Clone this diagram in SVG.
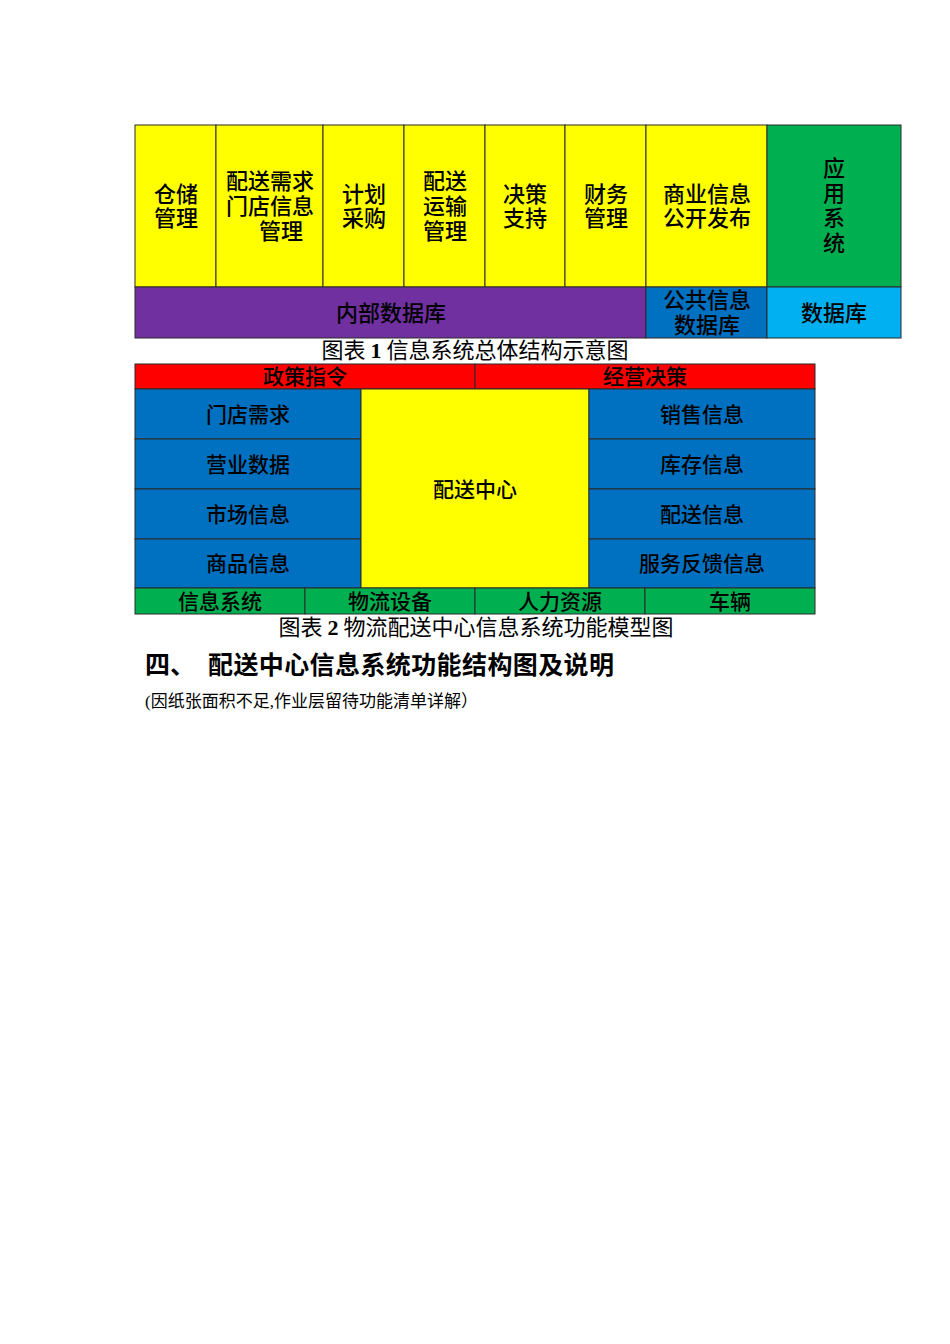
<svg xmlns="http://www.w3.org/2000/svg" width="950" height="1344" viewBox="0 0 950 1344">
<style>
.c{stroke:#2b2b2b;stroke-width:1}
.y{fill:#FFFF00}.g{fill:#00B050}.p{fill:#7030A0}.b{fill:#0070C0}.lb{fill:#00B0F0}.r{fill:#FF0000}
.t{font-family:"Noto Sans CJK SC","Noto Sans",sans-serif;font-size:22px;font-weight:500;fill:#000;text-anchor:middle}
.t2{font-family:"Noto Sans CJK SC","Noto Sans",sans-serif;font-size:21px;font-weight:500;fill:#000;text-anchor:middle}
.cap{font-family:"Noto Sans CJK SC",sans-serif;font-size:22px;fill:#000;text-anchor:middle}
.num{font-family:"Liberation Serif",serif;font-weight:bold}
.h{font-family:"Noto Sans CJK SC",sans-serif;font-size:25px;font-weight:bold;fill:#000}
.s{font-family:"Liberation Serif","Noto Sans CJK SC",serif;font-size:17px;fill:#000}
</style>
<rect width="950" height="1344" fill="#fff"/>

<g id="fig1">
  <g id="n-cangchu"><rect class="c y" x="135" y="125" width="81" height="162"/><text class="t" x="176" y="202">仓储</text><text class="t" x="176" y="226">管理</text></g>
  <g id="n-peisongxuqiu"><rect class="c y" x="216" y="125" width="107" height="162"/><text class="t" x="270" y="189">配送需求</text><text class="t" x="270" y="214">门店信息</text><text class="t" x="281" y="239">管理</text></g>
  <g id="n-jihua"><rect class="c y" x="323" y="125" width="81" height="162"/><text class="t" x="364" y="202">计划</text><text class="t" x="364" y="226">采购</text></g>
  <g id="n-yunshu"><rect class="c y" x="404" y="125" width="81" height="162"/><text class="t" x="445" y="189">配送</text><text class="t" x="445" y="214">运输</text><text class="t" x="445" y="239">管理</text></g>
  <g id="n-juece"><rect class="c y" x="485" y="125" width="80" height="162"/><text class="t" x="525" y="202">决策</text><text class="t" x="525" y="226">支持</text></g>
  <g id="n-caiwu"><rect class="c y" x="565" y="125" width="81" height="162"/><text class="t" x="606" y="202">财务</text><text class="t" x="606" y="226">管理</text></g>
  <g id="n-shangye"><rect class="c y" x="646" y="125" width="121" height="162"/><text class="t" x="707" y="202">商业信息</text><text class="t" x="707" y="226">公开发布</text></g>
  <g id="n-yingyong"><rect class="c g" x="767" y="125" width="134" height="162"/><text class="t" x="834" y="176">应</text><text class="t" x="834" y="201">用</text><text class="t" x="834" y="226">系</text><text class="t" x="834" y="251">统</text></g>
  <g id="n-neibu"><rect class="c p" x="135" y="287" width="511" height="51"/><text class="t" x="391" y="321">内部数据库</text></g>
  <g id="n-gonggong"><rect class="c b" x="646" y="287" width="121" height="51"/><text class="t" x="707" y="308">公共信息</text><text class="t" x="707" y="333">数据库</text></g>
  <g id="n-shujuku"><rect class="c lb" x="767" y="287" width="134" height="51"/><text class="t" x="834" y="321">数据库</text></g>
  <text class="cap" x="475" y="358">图表 <tspan class="num">1</tspan> 信息系统总体结构示意图</text>
</g>

<g id="fig2">
  <g id="n-zhengce"><rect class="c r" x="135" y="364" width="340" height="25"/><text class="t2" x="305" y="384">政策指令</text></g>
  <g id="n-jingying"><rect class="c r" x="475" y="364" width="340" height="25"/><text class="t2" x="645" y="384">经营决策</text></g>
  <g id="n-mendian"><rect class="c b" x="135" y="389" width="226" height="50"/><text class="t2" x="248" y="422">门店需求</text></g>
  <g id="n-yingye"><rect class="c b" x="135" y="439" width="226" height="50"/><text class="t2" x="248" y="472">营业数据</text></g>
  <g id="n-shichang"><rect class="c b" x="135" y="489" width="226" height="50"/><text class="t2" x="248" y="522">市场信息</text></g>
  <g id="n-shangpin"><rect class="c b" x="135" y="539" width="226" height="49"/><text class="t2" x="248" y="571">商品信息</text></g>
  <g id="n-center"><rect class="c y" x="361" y="389" width="228" height="199"/><text class="t2" x="475" y="497">配送中心</text></g>
  <g id="n-xiaoshou"><rect class="c b" x="589" y="389" width="226" height="50"/><text class="t2" x="702" y="422">销售信息</text></g>
  <g id="n-kucun"><rect class="c b" x="589" y="439" width="226" height="50"/><text class="t2" x="702" y="472">库存信息</text></g>
  <g id="n-peisongxinxi"><rect class="c b" x="589" y="489" width="226" height="50"/><text class="t2" x="702" y="522">配送信息</text></g>
  <g id="n-fuwu"><rect class="c b" x="589" y="539" width="226" height="49"/><text class="t2" x="702" y="571">服务反馈信息</text></g>
  <g id="n-xinxi"><rect class="c g" x="135" y="588" width="170" height="26"/><text class="t2" x="220" y="609">信息系统</text></g>
  <g id="n-wuliu"><rect class="c g" x="305" y="588" width="170" height="26"/><text class="t2" x="390" y="609">物流设备</text></g>
  <g id="n-renli"><rect class="c g" x="475" y="588" width="170" height="26"/><text class="t2" x="560" y="609">人力资源</text></g>
  <g id="n-cheliang"><rect class="c g" x="645" y="588" width="170" height="26"/><text class="t2" x="730" y="609">车辆</text></g>
  <text class="cap" x="476" y="635">图表 <tspan class="num">2</tspan> 物流配送中心信息系统功能模型图</text>
</g>

<g id="connectors"></g>

<text class="h" x="145" y="674">四、<tspan x="208" textLength="406" lengthAdjust="spacing">配送中心信息系统功能结构图及说明</tspan></text>
<text class="s" x="145" y="707">(因纸张面积不足,作业层留待功能清单详解）</text>
</svg>
